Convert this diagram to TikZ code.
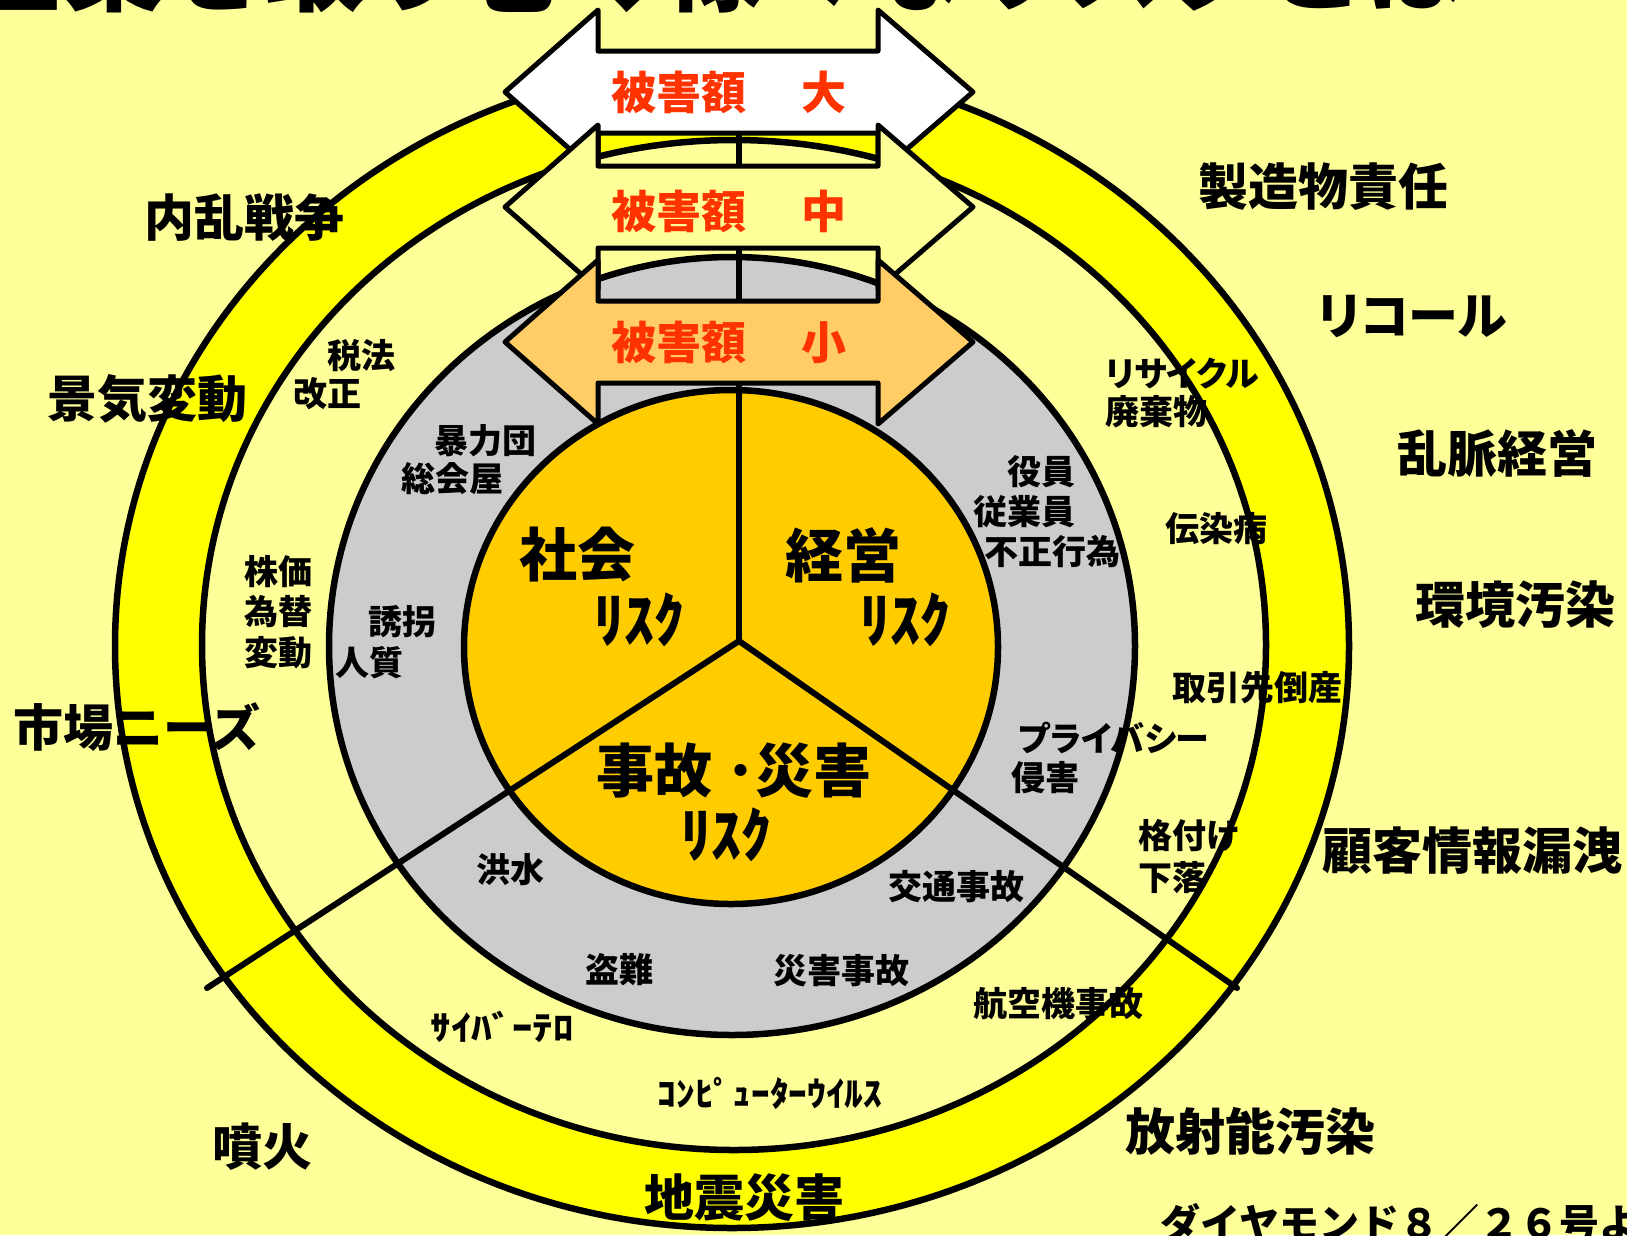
\documentclass[tikz,border=0pt]{standalone}
\usepackage{fontspec}
\setmainfont{Noto Sans CJK JP}
\newfontfamily\jpp{Noto Sans CJK JP}[RawFeature=+palt]
\definecolor{bgyellow}{HTML}{FFFF99}
\definecolor{ringyellow}{HTML}{FFFF00}
\definecolor{ringgray}{HTML}{CCCCCC}
\definecolor{coreorange}{HTML}{FFCC00}
\definecolor{arrowsmall}{HTML}{FFCC66}
\definecolor{dmgred}{HTML}{FF3300}
\newcommand{\dmgarrow}[2]{%
  \filldraw[arrowshape, fill=#2] (505,#1) -- (598,#1-82) -- (598,#1-41) -- (878,#1-41)
    -- (878,#1-82) -- (973,#1) -- (878,#1+82) -- (878,#1+41) -- (598,#1+41)
    -- (598,#1+82) -- cycle;}
\begin{document}
\begin{tikzpicture}[x=1pt,y=-1pt,
  ring/.style={draw=black, line width=6.5pt},
  divider/.style={draw=black, line width=6pt, line cap=round},
  arrowshape/.style={draw=black, line width=5pt, line join=round},
  titlelbl/.style={inner sep=0, anchor=base west, font=\fontsize{100}{100}\selectfont\bfseries},
  biglbl/.style={inner sep=0, font=\fontsize{50}{50}\selectfont\bfseries},
  midlbl/.style={inner sep=0, font=\fontsize{34}{34}\selectfont\bfseries},
  corelbl/.style={inner sep=0, font=\fontsize{58}{58}\selectfont\bfseries},
  kanalbl/.style={inner sep=0, font=\fontsize{60}{60}\selectfont\bfseries},
  redlbl/.style={inner sep=0, text=dmgred, font=\fontsize{45}{45}\selectfont\bfseries},
  srclbl/.style={inner sep=0, anchor=base west, font=\fontsize{40}{40}\selectfont\bfseries}]
\useasboundingbox (0,0) rectangle (1627,1235);
\fill[bgyellow] (0,0) rectangle (1627,1235);
% cut-off title
\node[titlelbl] (title) at (-36,3) {企業を取り巻く様々なリスクとは};
% rings
\filldraw[ring, fill=ringyellow] (732,646) ellipse [x radius=617pt, y radius=582pt];
\filldraw[ring, fill=bgyellow] (734,645) ellipse [x radius=532pt, y radius=505pt];
\filldraw[ring, fill=ringgray] (732,646) ellipse [x radius=403pt, y radius=389pt];
\filldraw[ring, fill=coreorange] (731,647) ellipse [x radius=267pt, y radius=257pt];
% dividers
\coordinate (c) at (739,641);
\coordinate (top) at (739,64);
\coordinate (ll) at (207,988);
\coordinate (lr) at (1237,988);
\draw[divider] (c) -- (top);
\draw[divider] (c) -- (ll);
\draw[divider] (c) -- (lr);
% damage arrows
\dmgarrow{92}{white}
\dmgarrow{207}{bgyellow}
\dmgarrow{342}{arrowsmall}
\node[redlbl] (dmgL) at (729,92) {被害額\hspace{56pt}大};
\node[redlbl] (dmgM) at (729,211) {被害額\hspace{56pt}中};
\node[redlbl] (dmgS) at (729,342) {被害額\hspace{56pt}小};
% core labels
\node[corelbl] (soc) at (577,555) {社会};
\node[kanalbl] (socr) at (639,620) {ﾘｽｸ};
\node[corelbl] (mgt) at (843,555) {経営};
\node[kanalbl] (mgtr) at (905,620) {ﾘｽｸ};
\node[corelbl] (acc) at (734,771) {事故 ･災害};
\node[kanalbl] (accr) at (726,835) {ﾘｽｸ};
% gray ring labels
\node[midlbl] (yakuza1) at (485,441) {暴力団};
\node[midlbl] (yakuza2) at (452,479) {総会屋};
\node[midlbl] (kid1) at (402,622) {誘拐};
\node[midlbl] (kid2) at (369,663) {人質};
\node[midlbl] (flood) at (510,870) {洪水};
\node[midlbl] (theft) at (619,970) {盗難};
\node[midlbl] (disas) at (841,971) {災害事故};
\node[midlbl] (traffic) at (956,887) {交通事故};
\node[midlbl] (priv1) at (1114,738) {\jpp プライバシー};
\node[midlbl] (priv2) at (1045,778) {侵害};
\node[midlbl] (fraud1) at (1041,472) {役員};
\node[midlbl] (fraud2) at (1024,512) {従業員};
\node[midlbl] (fraud3) at (1052,552) {不正行為};
% light ring labels
\node[midlbl] (tax1) at (361,356) {税法};
\node[midlbl] (tax2) at (327,394) {改正};
\node[midlbl, anchor=west] (fx1) at (244,572) {株価};
\node[midlbl, anchor=west] (fx2) at (244,612) {為替};
\node[midlbl, anchor=west] (fx3) at (244,653) {変動};
\node[midlbl] (cyber) at (502,1027) {\scalebox{1.2}[1]{ｻｲﾊﾞｰﾃﾛ}};
\node[midlbl] (virus) at (770,1093) {\scalebox{1.1}[1]{ｺﾝﾋﾟｭｰﾀｰｳｲﾙｽ}};
\node[midlbl] (air) at (1058,1004) {航空機事故};
\node[midlbl, anchor=west] (rate1) at (1138,836) {格付け};
\node[midlbl, anchor=west] (rate2) at (1138,878) {下落};
\node[midlbl] (bankr) at (1257,688) {取引先倒産};
\node[midlbl] (epid) at (1216,529) {伝染病};
\node[midlbl, anchor=west] (recy1) at (1105,374) {\jpp リサイクル};
\node[midlbl, anchor=west] (recy2) at (1105,412) {廃棄物};
% outer labels
\node[biglbl] (war) at (244,218) {内乱戦争};
\node[biglbl] (econ) at (147,399) {景気変動};
\node[biglbl] (market) at (137,727) {市場ニーズ};
\node[biglbl] (volc) at (262,1147) {噴火};
\node[biglbl] (quake) at (744,1198) {地震災害};
\node[biglbl] (radio) at (1250,1131) {放射能汚染};
\node[biglbl] (leak) at (1472,851) {顧客情報漏洩};
\node[biglbl] (envir) at (1515,605) {環境汚染};
\node[biglbl] (chaos) at (1497,453) {乱脈経営};
\node[biglbl] (recall) at (1412,316) {\jpp リコール};
\node[biglbl] (liab) at (1323,187) {製造物責任};
\node[srclbl] (src) at (1160,1238) {ダイヤモンド８／２６号より};
\end{tikzpicture}
\end{document}
